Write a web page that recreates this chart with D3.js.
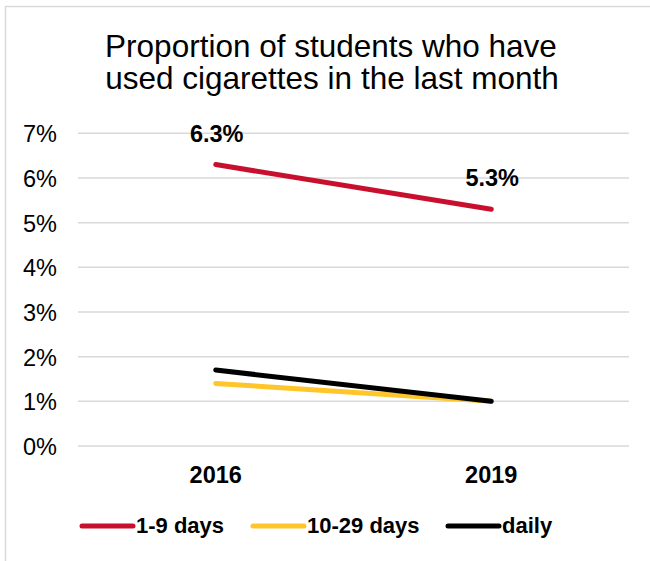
<!DOCTYPE html>
<html>
<head>
<meta charset="utf-8">
<script src="https://cdn.jsdelivr.net/npm/d3@7"></script>
<style>
  body { margin: 0; background: #fff; }
  text { font-family: "Liberation Sans", Arial, sans-serif; }
</style>
</head>
<body>
<svg id="chart" width="650" height="561"></svg>
<script>
// data
var years = ["2016", "2019"];
var seriesNames = ["1-9 days", "10-29 days", "daily"];
var seriesColors = ["#c8102e", "#ffc629", "#000000"];
var days1to9 = [6.3, 5.3];
var days10to29 = [1.4, 1.0];
var daily = [1.7, 1.0];
var yTicks = [0, 1, 2, 3, 4, 5, 6, 7];

var seriesValues = [days1to9, days10to29, daily];

var svg = d3.select("#chart");

// outer border
svg.append("rect")
    .attr("x", 5.5).attr("y", 6.5)
    .attr("width", 700).attr("height", 600)
    .attr("fill", "none")
    .attr("stroke", "#d9d9d9")
    .attr("stroke-width", 1.5);

// title
var title = svg.append("text")
    .attr("text-anchor", "middle")
    .attr("font-size", "31.5px")
    .attr("fill", "#000");
title.append("tspan").attr("x", 331).attr("y", 57).text("Proportion of students who have");
title.append("tspan").attr("x", 332).attr("y", 89).text("used cigarettes in the last month");

var plotL = 78, plotR = 629, plotT = 133.3, plotB = 446;

var x = d3.scaleBand().domain(years).range([plotL, plotR]);
var y = d3.scaleLinear().domain([0, 7]).range([plotB, plotT]);

// gridlines
svg.append("g")
    .selectAll("line")
    .data(yTicks)
    .enter().append("line")
    .attr("x1", plotL).attr("x2", plotR)
    .attr("y1", function (d) { return y(d); })
    .attr("y2", function (d) { return y(d); })
    .attr("stroke", "#d9d9d9")
    .attr("stroke-width", 1.5);

// y axis labels
var yAxis = d3.axisLeft(y)
    .tickValues(yTicks)
    .tickSize(0)
    .tickPadding(0)
    .tickFormat(function (d) { return d + "%"; });
var gy = svg.append("g")
    .attr("transform", "translate(57,0)")
    .call(yAxis);
gy.select(".domain").remove();
gy.selectAll("text")
    .attr("font-family", "Liberation Sans, Arial, sans-serif")
    .attr("font-size", "23.5px")
    .attr("dy", "0.36em")
    .attr("fill", "#000");

// x axis labels
var xAxis = d3.axisBottom(x).tickSize(0).tickPadding(0);
var gx = svg.append("g")
    .attr("transform", "translate(0,483)")
    .call(xAxis);
gx.select(".domain").remove();
gx.selectAll("text")
    .attr("font-family", "Liberation Sans, Arial, sans-serif")
    .attr("font-size", "23.5px")
    .attr("font-weight", "bold")
    .attr("dy", 0)
    .attr("fill", "#000");

// lines
var line = d3.line()
    .x(function (d, i) { return x(years[i]) + x.bandwidth() / 2; })
    .y(function (d) { return y(d); });

seriesValues.forEach(function (vals, k) {
    svg.append("path")
        .attr("d", line(vals))
        .attr("fill", "none")
        .attr("stroke", seriesColors[k])
        .attr("stroke-width", 5)
        .attr("stroke-linecap", "round");
});

// data labels for 1-9 days
svg.append("g")
    .selectAll("text")
    .data(days1to9)
    .enter().append("text")
    .attr("x", function (d, i) { return x(years[i]) + x.bandwidth() / 2 + 1; })
    .attr("y", function (d) { return y(d) - 23; })
    .attr("text-anchor", "middle")
    .attr("font-size", "23.5px")
    .attr("font-weight", "bold")
    .text(function (d) { return d.toFixed(1) + "%"; });

// legend
var legendX = [82, 253, 448];
var legend = svg.append("g");
seriesNames.forEach(function (name, k) {
    legend.append("line")
        .attr("x1", legendX[k]).attr("x2", legendX[k] + 51)
        .attr("y1", 526).attr("y2", 526)
        .attr("stroke", seriesColors[k])
        .attr("stroke-width", 5)
        .attr("stroke-linecap", "round");
    legend.append("text")
        .attr("x", legendX[k] + 54)
        .attr("y", 533)
        .attr("font-size", "22px")
        .attr("font-weight", "bold")
        .text(name);
});
</script>
</body>
</html>
